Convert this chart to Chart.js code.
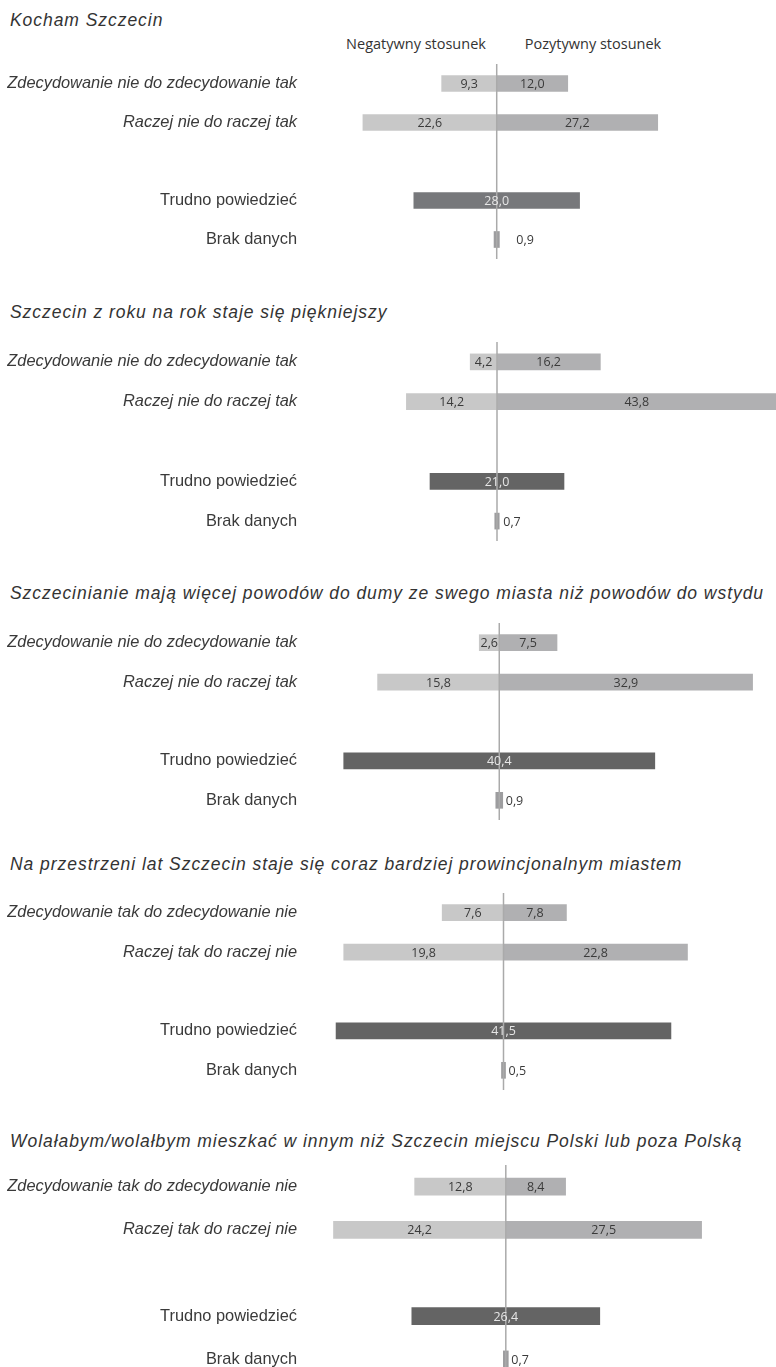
<!DOCTYPE html>
<html lang="pl">
<head>
<meta charset="utf-8">
<script src="https://cdn.jsdelivr.net/npm/chart.js@4.4.1/dist/chart.umd.min.js"></script>
<style>
  html, body { margin: 0; padding: 0; background: #fff; width: 776px; height: 1367px; overflow: hidden; }
  .panel-title { position: absolute; left: 10px; font-family: "Liberation Sans", Arial, sans-serif; font-style: italic;
                 font-size: 17.5px; letter-spacing: 0.95px; line-height: 18px; color: #333; white-space: nowrap; }
  .hdr { position: absolute; font-family: "Open Sans", sans-serif; font-size: 14.5px; line-height: 16px; color: #333;
         white-space: nowrap; transform: translateX(-50%); }
  canvas { position: absolute; left: 0; }
</style>
</head>
<body>
<script>
// Survey statements (one panel each)
const titles = [
  'Kocham Szczecin',
  'Szczecin z roku na rok staje się piękniejszy',
  'Szczecinianie mają więcej powodów do dumy ze swego miasta niż powodów do wstydu',
  'Na przestrzeni lat Szczecin staje się coraz bardziej prowincjonalnym miastem',
  'Wolałabym/wolałbym mieszkać w innym niż Szczecin miejscu Polski lub poza Polską'
];

// Row captions
const rowsNieTak = ['Zdecydowanie nie do zdecydowanie tak', 'Raczej nie do raczej tak', '', 'Trudno powiedzieć', 'Brak danych'];
const rowsTakNie = ['Zdecydowanie tak do zdecydowanie nie', 'Raczej tak do raczej nie', '', 'Trudno powiedzieć', 'Brak danych'];
const panelRows = [rowsNieTak, rowsNieTak, rowsNieTak, rowsTakNie, rowsTakNie];

// Column headers
const headers = ['Negatywny stosunek', 'Pozytywny stosunek'];

// Percentages per statement
const strongNeg = [9.3, 4.2, 2.6, 7.6, 12.8];
const strongPos = [12.0, 16.2, 7.5, 7.8, 8.4];
const ratherNeg = [22.6, 14.2, 15.8, 19.8, 24.2];
const ratherPos = [27.2, 43.8, 32.9, 22.8, 27.5];
const hardToSay = [28.0, 21.0, 40.4, 41.5, 26.4];
const noAnswer  = [0.9, 0.7, 0.9, 0.5, 0.7];

// Zero line and value labels drawn on top of the bars
const valueLabels = {
  id: 'valueLabels',
  afterDatasetsDraw(chart, args, opts) {
    const { ctx, chartArea, scales: { x } } = chart;
    const zx = x.getPixelForValue(0);
    ctx.save();
    ctx.strokeStyle = '#aaaaaa';
    ctx.lineWidth = 1.5;
    ctx.beginPath();
    ctx.moveTo(zx, chartArea.top);
    ctx.lineTo(zx, chartArea.bottom);
    ctx.stroke();
    ctx.font = '12.5px "Open Sans", sans-serif';
    ctx.textBaseline = 'middle';
    chart.data.datasets.forEach((ds, di) => {
      const meta = chart.getDatasetMeta(di);
      meta.data.forEach((bar, i) => {
        const raw = ds.data[i];
        if (!raw) return;
        const txt = Math.abs(raw[1] - raw[0]).toFixed(1).replace('.', ',');
        const left = Math.min(bar.x, bar.base);
        const right = Math.max(bar.x, bar.base);
        ctx.fillStyle = ds.labelColor;
        if (ds.labelOutside) {
          ctx.textAlign = 'left';
          ctx.fillText(txt, right + opts.outsideGap, bar.y + 1);
        } else {
          ctx.textAlign = 'center';
          ctx.fillText(txt, (left + right) / 2, bar.y + 1);
        }
      });
    });
    ctx.restore();
  }
};

// Layout of each panel: canvas top/height, x range, bar thickness
const panelLayout = [
  { top: 63.5,   height: 195, xMin: -31.54, xMax: 47.18, thick: 16, dark: '#77787b', gap: 17, titleY: 19.5 },
  { top: 341.8,  height: 199, xMin: -29.31, xMax: 43.73, thick: 16, dark: '#646464', gap: 4,  titleY: 312 },
  { top: 623.0,  height: 197, xMin: -24.58, xMax: 35.94, thick: 16, dark: '#646464', gap: 3,  titleY: 593 },
  { top: 893.3,  height: 197, xMin: -23.98, xMax: 33.77, thick: 16, dark: '#646464', gap: 3,  titleY: 863.5 },
  { top: 1165.3, height: 216, xMin: -27.50, xMax: 37.95, thick: 17, dark: '#646464', gap: 3,  titleY: 1141 }
];

function addText(cls, text, left, top) {
  const d = document.createElement('div');
  d.className = cls;
  d.textContent = text;
  d.style.left = left + 'px';
  d.style.top = top + 'px';
  document.body.appendChild(d);
}

titles.forEach((t, i) => addText('panel-title', t, 10, panelLayout[i].titleY - 9));
addText('hdr', headers[0], 416, 36);
addText('hdr', headers[1], 593, 36);

panelLayout.forEach((p, i) => {
  const canvas = document.createElement('canvas');
  canvas.width = 776;
  canvas.height = Math.round(p.height);
  canvas.style.top = p.top + 'px';
  document.body.appendChild(canvas);

  new Chart(canvas, {
    type: 'bar',
    data: {
      labels: panelRows[i],
      datasets: [
        { data: [[-strongNeg[i], 0], [-ratherNeg[i], 0], null, null, null],
          backgroundColor: '#c8c8c8', labelColor: '#3a3a3a' },
        { data: [[0, strongPos[i]], [0, ratherPos[i]], null, null, null],
          backgroundColor: '#b0b0b2', labelColor: '#3a3a3a' },
        { data: [null, null, null, [-hardToSay[i] / 2, hardToSay[i] / 2], null],
          backgroundColor: p.dark, labelColor: '#e6e6e6' },
        { data: [null, null, null, null, [-noAnswer[i] / 2, noAnswer[i] / 2]],
          backgroundColor: '#9d9d9f', labelColor: '#3a3a3a', labelOutside: true }
      ]
    },
    options: {
      indexAxis: 'y',
      responsive: false,
      animation: false,
      layout: { padding: 0 },
      datasets: { bar: { grouped: false, barThickness: p.thick, borderWidth: 0 } },
      plugins: {
        legend: { display: false },
        tooltip: { enabled: false },
        valueLabels: { outsideGap: p.gap }
      },
      scales: {
        x: { display: false, min: p.xMin, max: p.xMax },
        y: {
          grid: { display: false, drawTicks: false },
          border: { display: false },
          ticks: {
            autoSkip: false,
            padding: 13,
            color: '#3a3a3a',
            font: (c) => ({ family: '"Liberation Sans", Arial, sans-serif', size: 16.4,
                            style: c.index < 2 ? 'italic' : 'normal' })
          },
          afterFit(s) { s.width = 310; s.paddingTop = 0; s.paddingBottom = 0; }
        }
      }
    },
    plugins: [valueLabels]
  });
});
</script>
</body>
</html>
